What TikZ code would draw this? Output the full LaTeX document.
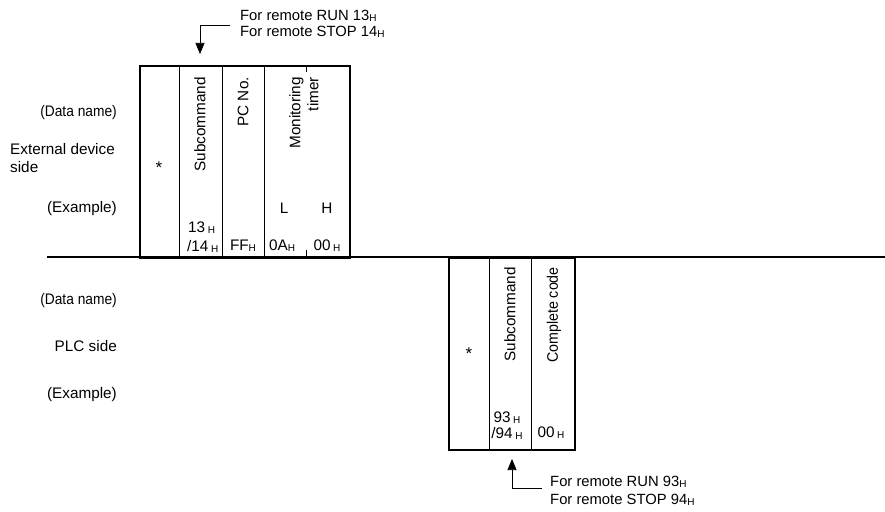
\documentclass[tikz,border=0pt]{standalone}
\usepackage{fontspec}
\setmainfont{Liberation Sans}
\usetikzlibrary{arrows.meta}
\newcommand\Hsub{\raisebox{-1pt}{\fontsize{10}{10}\selectfont H}}
\newcommand\narrowtxt[1]{\scalebox{0.9}[1]{#1}}
\begin{document}
\begin{tikzpicture}[x=1pt,y=-1pt,
  font=\fontsize{15.3}{18}\selectfont,
  boxst/.style={draw, line width=1.6pt, inner sep=0pt, anchor=north west},
  divst/.style={line width=0.8pt},
  txt/.style={inner sep=0pt},
  startxt/.style={inner sep=0pt, font=\fontsize{17}{18}\selectfont},
  vtxt/.style={rotate=90, anchor=east, inner sep=0pt},
  leader/.style={line width=0.6pt, -{Triangle[length=11pt,width=9pt]}}]
\useasboundingbox (0,0) rectangle (885,511);

% separator line
\coordinate (sepL) at (47,257);
\coordinate (sepR) at (885,257);
\draw[line width=1.2pt] (sepL) -- (sepR);

% ---------- external device side ----------
\node[boxst, minimum width=210pt, minimum height=192pt] (reqbox) at (139,65) {};
\draw[divst] (179,65) -- (179,257);
\draw[divst] (222,65) -- (222,257);
\draw[divst] (264,65) -- (264,257);
\draw[divst] (306,65) -- (306,72);
\draw[divst] (306,250) -- (306,257);

\node[txt, anchor=east] (dn1) at (117,113) {\narrowtxt{(Data name)}};
\node[txt, anchor=west, align=left] (ext) at (10,158) {External device\\side};
\node[txt, anchor=east] (ex1) at (117,209) {(Example)};

\node[startxt] (star1) at (159,168) {*};
\node[vtxt] (sub1) at (200,77) {Subcommand};
\node[vtxt] (pcno) at (243,77) {PC No.};
\node[vtxt, align=right] (mon) at (304,77) {Monitoring\\timer};
\node[txt] (lL) at (284,208) {L};
\node[txt] (lH) at (327,208) {H};
\node[txt, anchor=west] (v13) at (188,228) {13\,\Hsub};
\node[txt, anchor=west] (v14) at (187,246) {/14\,\Hsub};
\node[txt] (vFF) at (243,246) {FF\Hsub};
\node[txt] (v0A) at (282,246) {0A\Hsub};
\node[txt] (v00) at (327,246) {00\,\Hsub};

\node[txt, anchor=west, align=left, font=\fontsize{14.8}{16.5}\selectfont] (topnote) at (240,24)
  {For remote RUN 13\Hsub\\For remote STOP 14\Hsub};
\coordinate (tA) at (230,25);
\coordinate (tB) at (200,25);
\coordinate (tC) at (200,54);
\draw[leader] (tA) -- (tB) -- (tC);

% ---------- PLC side ----------
\node[boxst, minimum width=126pt, minimum height=192pt] (resbox) at (448,257) {};
\draw[divst] (489,257) -- (489,449);
\draw[divst] (531,257) -- (531,449);

\node[txt, anchor=east] (dn2) at (117,301) {\narrowtxt{(Data name)}};
\node[txt, anchor=east] (plc) at (117,346) {PLC side};
\node[txt, anchor=east] (ex2) at (117,395) {(Example)};

\node[startxt] (star2) at (469,354) {*};
\node[vtxt] (sub2) at (510,267) {Subcommand};
\node[vtxt] (ccode) at (554,267) {\scalebox{0.93}[1]{Complete code}};
\node[txt] (v93) at (507,418) {93\,\Hsub};
\node[txt] (v94) at (507,433) {/94\,\Hsub};
\node[txt] (v00b) at (551,433) {00\,\Hsub};

\node[txt, anchor=west, align=left, font=\fontsize{14.8}{18}\selectfont] (botnote) at (550,491)
  {For remote RUN 93\Hsub\\For remote STOP 94\Hsub};
\coordinate (bA) at (542,488);
\coordinate (bB) at (512,488);
\coordinate (bC) at (512,459);
\draw[leader] (bA) -- (bB) -- (bC);
\end{tikzpicture}
\end{document}
